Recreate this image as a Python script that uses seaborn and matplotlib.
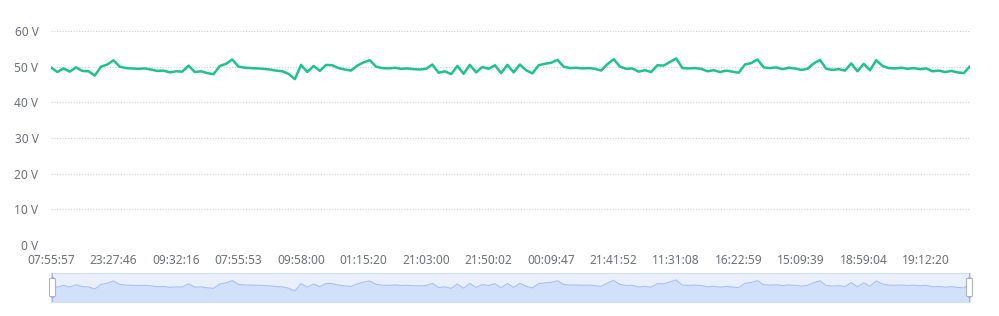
import matplotlib
matplotlib.use("Agg")
import matplotlib.pyplot as plt
from matplotlib.patches import FancyBboxPatch, Rectangle
import seaborn as sns
import numpy as np
import pandas as pd

voltage = [
    49.8, 48.5, 49.5, 48.6, 49.8, 48.8, 48.7, 47.5, 50.0, 50.6,
    51.8, 50.0, 49.6, 49.5, 49.4, 49.5, 49.2, 48.8, 48.9, 48.4,
    48.7, 48.6, 50.3, 48.5, 48.7, 48.2, 47.9, 50.2, 50.8, 52.0,
    50.0, 49.7, 49.6, 49.5, 49.4, 49.2, 48.9, 48.7, 48.0, 46.5,
    50.5, 48.5, 50.2, 48.8, 50.5, 50.4, 49.6, 49.2, 48.9, 50.3,
    51.2, 51.8, 50.0, 49.6, 49.5, 49.7, 49.4, 49.5, 49.3, 49.2,
    49.4, 50.6, 48.3, 48.7, 47.9, 50.2, 48.0, 50.5, 48.4, 49.9,
    49.4, 50.4, 48.2, 50.5, 48.4, 50.6, 49.0, 48.1, 50.4, 50.8,
    51.1, 51.9, 50.0, 49.6, 49.7, 49.5, 49.6, 49.4, 48.9, 50.7,
    52.1, 50.0, 49.4, 49.5, 48.6, 49.0, 48.5, 50.4, 50.3, 51.3,
    52.3, 49.6, 49.5, 49.6, 49.4, 48.7, 49.0, 48.5, 48.9, 48.6,
    48.3, 50.6, 51.0, 52.0, 49.8, 49.6, 49.8, 49.3, 49.7, 49.5,
    49.1, 49.4, 50.9, 51.9, 49.4, 49.1, 49.3, 48.9, 50.9, 48.7,
    50.8, 49.0, 51.8, 50.2, 49.6, 49.5, 49.7, 49.4, 49.6, 49.3,
    49.5, 48.7, 48.9, 48.5, 48.8, 48.4, 48.2, 50.1,
]
tick_labels = ["07:55:57", "23:27:46", "09:32:16", "07:55:53", "09:58:00",
               "01:15:20", "21:03:00", "21:50:02", "00:09:47", "21:41:52",
               "11:31:08", "16:22:59", "15:09:39", "18:59:04", "19:12:20"]
y_ticks = [0, 10, 20, 30, 40, 50, 60]

df = pd.DataFrame({"idx": np.arange(len(voltage)), "v": voltage})
n = len(voltage)
tick_step = 10

sns.set_theme(style="white")
plt.rcParams['font.family'] = ['Noto Sans', 'DejaVu Sans']

W, H = 999, 316
fig = plt.figure(figsize=(W / 100, H / 100), dpi=100)

def frac(x0, y0, x1, y1):
    return [x0 / W, 1 - y1 / H, (x1 - x0) / W, (y1 - y0) / H]

label_color = "#6e7079"
line_color = "#1ec28f"

ax = fig.add_axes(frac(51, 31, 970, 245))
sns.lineplot(data=df, x="idx", y="v", ax=ax, color=line_color, linewidth=1.8)
ax.set_xlim(0, n - 1)
ax.set_ylim(0, 60)
for sp in ax.spines.values():
    sp.set_visible(False)
ax.set_yticks(y_ticks)
ax.set_yticklabels([f"{t} V" for t in y_ticks])
ax.set_xticks(np.arange(0, n, tick_step)[:len(tick_labels)])
ax.set_xticklabels(tick_labels)
ax.tick_params(axis="both", length=0, labelsize=8.6, labelcolor=label_color)
ax.tick_params(axis="y", pad=9)
ax.tick_params(axis="x", pad=6.5)
ax.set_xlabel("")
ax.set_ylabel("")
ax.grid(False)
for t in y_ticks:
    ax.axhline(t, color="#d0d0d0", linewidth=0.8, linestyle=(0, (1, 1.5)), zorder=0)

# data zoom slider
sx = fig.add_axes(frac(51, 273, 970, 302))
sx.set_xlim(0, n - 1)
sx.set_ylim(40.7, 56.0)
sx.set_facecolor("#e9effc")
sx.fill_between(df["idx"], 40.7, df["v"], color="#d3e0fa", linewidth=0)
sns.lineplot(data=df, x="idx", y="v", ax=sx, color="#a9c0f5", linewidth=0.8)
sx.set_xticks([])
sx.set_yticks([])
sx.set_xlabel("")
sx.set_ylabel("")
for sp in sx.spines.values():
    sp.set_color("#d4def3")
    sp.set_linewidth(0.8)

# handles
for hx in (52.5, 969.5):
    fx = hx / W
    fig.patches.append(Rectangle((fx - 0.4 / W, 1 - 302 / H), 0.8 / W, 29 / H,
                                 transform=fig.transFigure, color="#9fb4e6",
                                 linewidth=0, zorder=5))
    fig.patches.append(FancyBboxPatch((fx - 3 / W, 1 - 297 / H), 6 / W, 19 / H,
                                      boxstyle="round,pad=0,rounding_size=0.004",
                                      transform=fig.transFigure,
                                      facecolor="white", edgecolor="#aab3c4",
                                      linewidth=0.8, zorder=6))

fig.savefig("out.png", dpi=100)
